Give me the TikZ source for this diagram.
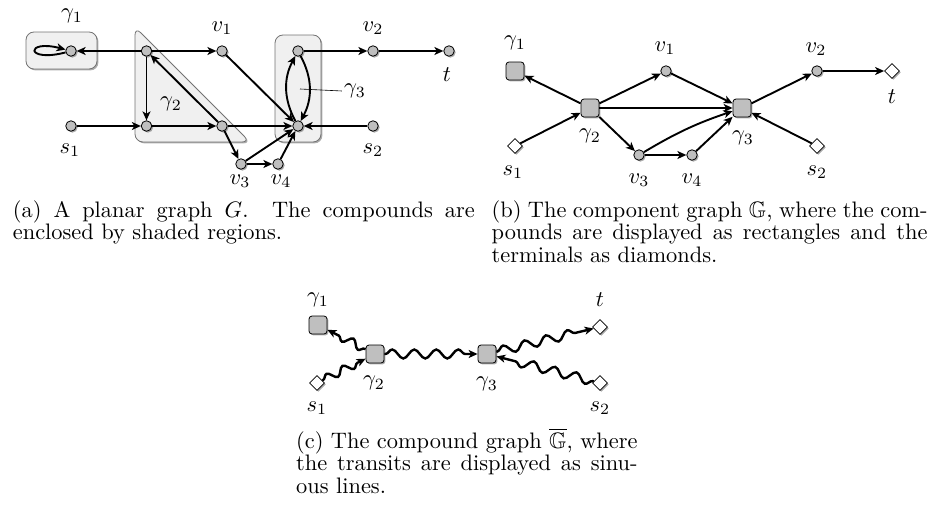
\documentclass[tikz,border=0pt]{standalone}
\usepackage{amssymb}
\usepackage{graphicx}
\usetikzlibrary{arrows.meta,shadows,decorations.pathmorphing,shapes.geometric}

\newcommand{\sctext}[1]{\scalebox{2.24}{\fontsize{10}{10.1}\selectfont #1}}

\tikzset{
  shd/.style={drop shadow={shadow xshift=1.4pt, shadow yshift=-1.4pt, opacity=0.55, fill=black!60}},
  vtx/.style={circle, draw=black, line width=0.8pt, fill=black!25, minimum size=10.5pt, inner sep=0pt, shd},
  cmp/.style={rectangle, rounded corners=3pt, draw=black, line width=0.8pt, fill=black!25, minimum size=18pt, inner sep=0pt, shd},
  termnode/.style={diamond, draw=black, line width=0.8pt, fill=white, minimum size=15pt, inner sep=0pt, shd},
  arr/.style={-{Stealth[length=9pt,width=8pt,inset=2.5pt]}, line width=1.9pt},
  wavy/.style={arr, line width=2.4pt, decorate, decoration={snake, segment length=22pt, amplitude=4.5pt, post length=10pt, pre length=1pt}},
  region/.style={fill=black!6, draw=black!55, line width=0.8pt, rounded corners=8pt, shd},
  lbl/.style={inner sep=0pt},
  captxt/.style={anchor=base west, inner sep=0pt}
}

\begin{document}
\begin{tikzpicture}[x=1pt, y=-1pt]
\useasboundingbox (0,0) rectangle (928,506);

% ---------------- (a) ----------------
\draw[region] (26,32) rectangle (97,69);
\draw[region] (135,27) -- (135,142) -- (250,142) -- cycle;
\draw[region] (275,35) rectangle (321,142);

\node[vtx] (g1n) at (71,51) {};
\node[vtx] (a) at (146.5,51) {};
\node[vtx] (v1) at (222,51) {};
\node[vtx] (e) at (298,51) {};
\node[vtx] (v2) at (373,51) {};
\node[vtx] (t) at (449,51) {};
\node[vtx] (s1) at (71,126) {};
\node[vtx] (b) at (146.5,126) {};
\node[vtx] (c) at (222,126) {};
\node[vtx] (d) at (298,126) {};
\node[vtx] (s2) at (373,126) {};
\node[vtx] (v3) at (241,164) {};
\node[vtx] (v4) at (278,164) {};

\node[lbl] (lg1) at (72,16) {\sctext{$\gamma_1$}};
\node[lbl] (lv1) at (222,28) {\sctext{$v_1$}};
\node[lbl] (lv2) at (373,28) {\sctext{$v_2$}};
\node[lbl] (lt) at (447,75) {\sctext{$t$}};
\node[lbl] (lg2) at (171,104) {\sctext{$\gamma_2$}};
\node[lbl] (lg3) at (355,91) {\sctext{$\gamma_3$}};
\node[lbl] (ls1) at (70,150) {\sctext{$s_1$}};
\node[lbl] (ls2) at (373,150) {\sctext{$s_2$}};
\node[lbl] (lv3) at (240,181) {\sctext{$v_3$}};
\node[lbl] (lv4) at (281,181) {\sctext{$v_4$}};
\coordinate (g3in) at (300,89);
\draw[line width=0.6pt] (g3in) -- ([xshift=-2pt]lg3.west);

\draw[arr] (g1n) .. controls (25,63) and (25,39) .. (g1n);
\draw[arr] (a) -- (g1n);
\draw[arr] (a) -- (v1);
\draw[arr] (a) -- (b);
\draw[arr] (c) -- (a);
\draw[arr] (s1) -- (b);
\draw[arr] (b) -- (c);
\draw[arr] (c) -- (d);
\draw[arr] (v1) -- (d);
\draw[arr] (s2) -- (d);
\draw[arr] (c) -- (v3);
\draw[arr] (v3) -- (v4);
\draw[arr] (v3) -- (d);
\draw[arr] (v4) -- (d);
\draw[arr] (e) -- (v2);
\draw[arr] (v2) -- (t);
\draw[arr] (d) to[bend left=28] (e);
\draw[arr] (e) to[bend left=28] (d);

% ---------------- (b) ----------------
\node[cmp] (G1) at (515,71) {};
\node[cmp] (G2) at (590,108) {};
\node[vtx] (bv1) at (666,71) {};
\node[cmp] (G3) at (742,108) {};
\node[vtx] (bv2) at (817,71) {};
\node[termnode] (bt) at (892,71) {};
\node[termnode] (bs1) at (515,146) {};
\node[vtx] (bv3) at (639,155) {};
\node[vtx] (bv4) at (692,155) {};
\node[termnode] (bs2) at (817,146) {};

\node[lbl] (blg1) at (515,43) {\sctext{$\gamma_1$}};
\node[lbl] (blv1) at (665,48) {\sctext{$v_1$}};
\node[lbl] (blv2) at (816,49) {\sctext{$v_2$}};
\node[lbl] (blt) at (892,97) {\sctext{$t$}};
\node[lbl] (blg2) at (590,136) {\sctext{$\gamma_2$}};
\node[lbl] (blg3) at (743,138) {\sctext{$\gamma_3$}};
\node[lbl] (bls1) at (513,172) {\sctext{$s_1$}};
\node[lbl] (bls2) at (817,172) {\sctext{$s_2$}};
\node[lbl] (blv3) at (639,180) {\sctext{$v_3$}};
\node[lbl] (blv4) at (692,180) {\sctext{$v_4$}};

\draw[arr] (G2) -- (G1);
\draw[arr] (bs1) -- (G2);
\draw[arr] (G2) -- (bv1);
\draw[arr] (G2) -- (G3);
\draw[arr] (G2) -- (bv3);
\draw[arr] (bv1) -- (G3);
\draw[arr] (bv3) -- (bv4);
\draw[arr] (bv3) to[bend left=6] (G3);
\draw[arr] (bv4) -- (G3);
\draw[arr] (G3) -- (bv2);
\draw[arr] (bv2) -- (bt);
\draw[arr] (bs2) -- (G3);

% ---------------- (c) ----------------
\node[cmp] (C1) at (318,325) {};
\node[cmp] (C2) at (375,354) {};
\node[cmp] (C3) at (487,354) {};
\node[termnode] (ct) at (600,327) {};
\node[termnode] (cs1) at (317,383) {};
\node[termnode] (cs2) at (600,383) {};

\node[lbl] (clg1) at (318,300) {\sctext{$\gamma_1$}};
\node[lbl] (clt) at (600,300) {\sctext{$t$}};
\node[lbl] (clg2) at (374,383) {\sctext{$\gamma_2$}};
\node[lbl] (clg3) at (487,384) {\sctext{$\gamma_3$}};
\node[lbl] (cls1) at (317,408) {\sctext{$s_1$}};
\node[lbl] (cls2) at (600,408) {\sctext{$s_2$}};

\draw[wavy, decoration={segment length=18pt, amplitude=4pt, post length=9pt}] (C2) -- (C1);
\draw[wavy, decoration={segment length=18pt, amplitude=4pt, post length=9pt}] (cs1) -- (C2);
\draw[wavy] (C2) -- (C3);
\draw[wavy] (C3) -- (ct);
\draw[wavy] (cs2) -- (C3);

% ---------------- captions ----------------
\node[captxt] (capa) at (12.7,217)
  {\sctext{\parbox[t]{206.2pt}{(a) A planar graph $G$.  The compounds are\linebreak enclosed by shaded regions.}}};
\node[captxt] (capb) at (491.5,217)
  {\sctext{\parbox[t]{194.6pt}{(b) The component graph $\mathbb{G}$, where the com-\linebreak pounds are displayed as rectangles and the\linebreak terminals as diamonds.}}};
\node[captxt] (capc) at (296,448)
  {\sctext{\parbox[t]{152.4pt}{(c) The compound graph $\overline{\mathbb{G}}$, where\linebreak the transits are displayed as sinu-\linebreak ous lines.}}};
\end{tikzpicture}
\end{document}
